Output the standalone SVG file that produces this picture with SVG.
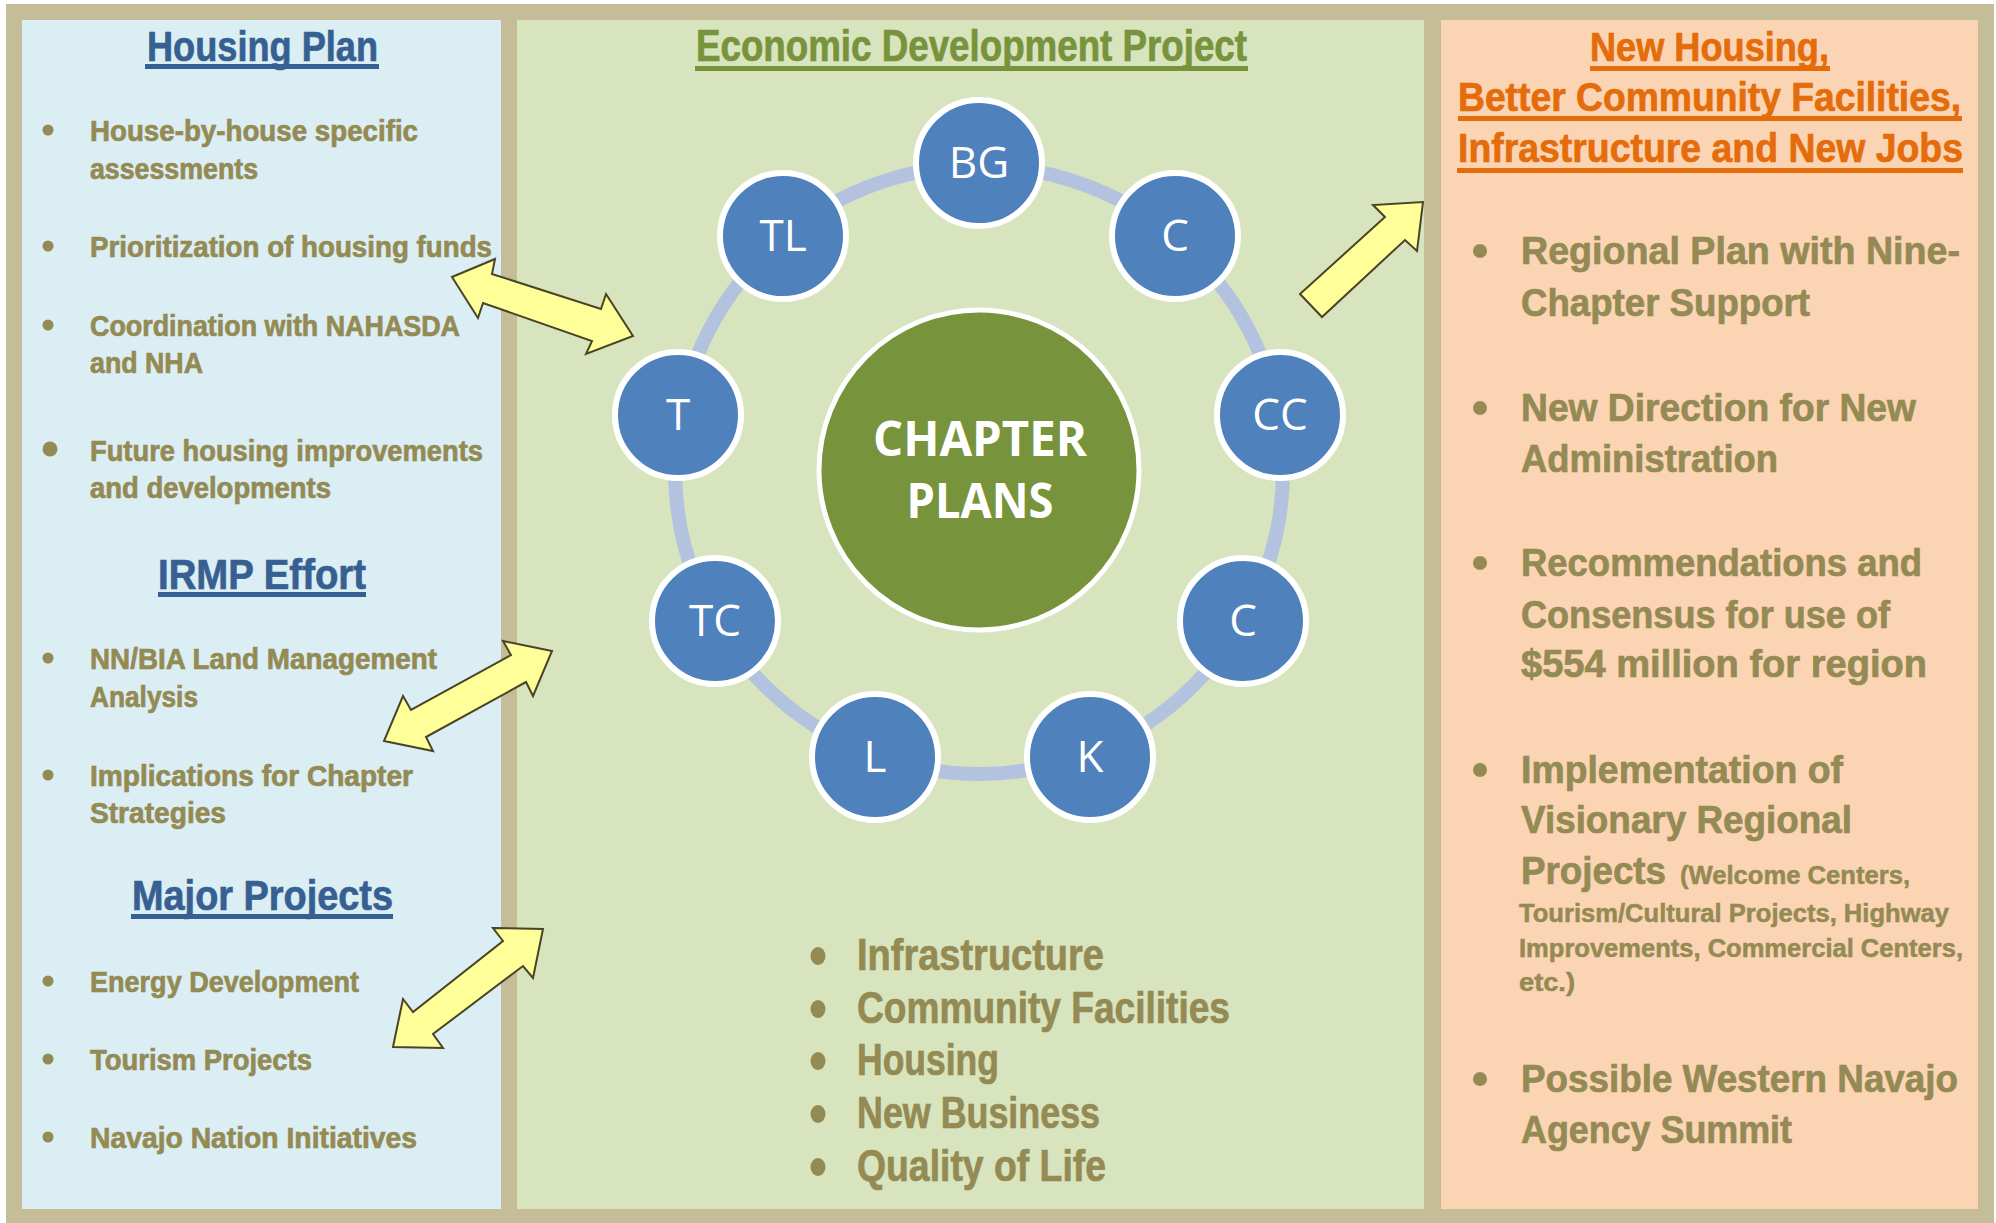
<svg xmlns="http://www.w3.org/2000/svg" width="1996" height="1223" viewBox="0 0 1996 1223">
<defs>
<style>
.bul{font-family:"Liberation Sans",Arial,sans-serif;font-weight:bold;fill:#948A54;stroke:#948A54;stroke-width:0.7px;}
.lb{font-size:30px;}
.gl{font-size:44px;}
.rb{font-size:39px;}
.rs{font-size:25px;stroke-width:0.5px;}
.tt{font-family:"Liberation Sans",Arial,sans-serif;font-weight:bold;stroke-width:0.7px;}
.blue{fill:#376092;stroke:#376092;font-size:43px;}
.grn{fill:#77933C;stroke:#77933C;font-size:44px;}
.org{fill:#E46C0A;stroke:#E46C0A;font-size:40px;}
.dot{fill:#948A54;}
.node circle{fill:#4F81BD;stroke:#FFFFFF;stroke-width:6;}
.node text{font-family:"Open Sans","DejaVu Sans",sans-serif;font-size:44px;fill:#FFFFFF;text-anchor:middle;}
.arrow{fill:#FFFF99;stroke:#4A4326;stroke-width:2;stroke-linejoin:miter;}
</style>
</defs>
<rect x="0" y="0" width="1996" height="1223" fill="#FFFFFF"/>
<rect x="6" y="4" width="1988" height="1219" fill="#C4BD97"/>

<g id="housing-panel">
<rect x="22" y="20" width="479" height="1189" fill="#DAEEF3"/>
<text class="tt blue" x="147" y="61" textLength="231" lengthAdjust="spacingAndGlyphs">Housing Plan</text>
<rect x="145" y="64" width="234" height="5" fill="#376092"/>
<circle class="dot" cx="48" cy="130" r="5.5"/>
<text class="bul lb" x="90" y="141" textLength="328" lengthAdjust="spacingAndGlyphs">House-by-house specific</text>
<text class="bul lb" x="90" y="179" textLength="168" lengthAdjust="spacingAndGlyphs">assessments</text>
<circle class="dot" cx="48" cy="246" r="5.5"/>
<text class="bul lb" x="90" y="257" textLength="402" lengthAdjust="spacingAndGlyphs">Prioritization of housing funds</text>
<circle class="dot" cx="48" cy="325" r="5.5"/>
<text class="bul lb" x="90" y="336" textLength="370" lengthAdjust="spacingAndGlyphs">Coordination with NAHASDA</text>
<text class="bul lb" x="90" y="373" textLength="113" lengthAdjust="spacingAndGlyphs">and NHA</text>
<circle class="dot" cx="50" cy="449" r="7.5"/>
<text class="bul lb" x="90" y="461" textLength="393" lengthAdjust="spacingAndGlyphs">Future housing improvements</text>
<text class="bul lb" x="90" y="498" textLength="241" lengthAdjust="spacingAndGlyphs">and developments</text>

<text class="tt blue" x="158" y="589" textLength="208" lengthAdjust="spacingAndGlyphs">IRMP Effort</text>
<rect x="158" y="592" width="208" height="5" fill="#376092"/>
<circle class="dot" cx="48" cy="658" r="5.5"/>
<text class="bul lb" x="90" y="669" textLength="347" lengthAdjust="spacingAndGlyphs">NN/BIA Land Management</text>
<text class="bul lb" x="90" y="707" textLength="108" lengthAdjust="spacingAndGlyphs">Analysis</text>
<circle class="dot" cx="48" cy="775" r="5.5"/>
<text class="bul lb" x="90" y="786" textLength="323" lengthAdjust="spacingAndGlyphs">Implications for Chapter</text>
<text class="bul lb" x="90" y="823" textLength="136" lengthAdjust="spacingAndGlyphs">Strategies</text>

<text class="tt blue" x="132" y="910" textLength="261" lengthAdjust="spacingAndGlyphs">Major Projects</text>
<rect x="131" y="914" width="262" height="5" fill="#376092"/>
<circle class="dot" cx="48" cy="981" r="5.5"/>
<text class="bul lb" x="90" y="992" textLength="269" lengthAdjust="spacingAndGlyphs">Energy Development</text>
<circle class="dot" cx="48" cy="1059" r="5.5"/>
<text class="bul lb" x="90" y="1070" textLength="222" lengthAdjust="spacingAndGlyphs">Tourism Projects</text>
<circle class="dot" cx="48" cy="1137" r="5.5"/>
<text class="bul lb" x="90" y="1148" textLength="327" lengthAdjust="spacingAndGlyphs">Navajo Nation Initiatives</text>
</g>

<g id="economic-panel">
<rect x="517" y="20" width="907" height="1189" fill="#D7E4BD"/>
<text class="tt grn" x="696" y="61" textLength="551" lengthAdjust="spacingAndGlyphs">Economic Development Project</text>
<rect x="695" y="66" width="553" height="5" fill="#77933C"/>
<ellipse class="dot" cx="818" cy="956" rx="7.5" ry="9"/>
<text class="bul gl" x="857" y="970" textLength="247" lengthAdjust="spacingAndGlyphs">Infrastructure</text>
<ellipse class="dot" cx="818" cy="1009" rx="7.5" ry="9"/>
<text class="bul gl" x="857" y="1023" textLength="373" lengthAdjust="spacingAndGlyphs">Community Facilities</text>
<ellipse class="dot" cx="818" cy="1061" rx="7.5" ry="9"/>
<text class="bul gl" x="857" y="1075" textLength="142" lengthAdjust="spacingAndGlyphs">Housing</text>
<ellipse class="dot" cx="818" cy="1114" rx="7.5" ry="9"/>
<text class="bul gl" x="857" y="1128" textLength="243" lengthAdjust="spacingAndGlyphs">New Business</text>
<ellipse class="dot" cx="818" cy="1167" rx="7.5" ry="9"/>
<text class="bul gl" x="857" y="1181" textLength="249" lengthAdjust="spacingAndGlyphs">Quality of Life</text>
</g>

<g id="outcomes-panel">
<rect x="1441" y="20" width="537" height="1189" fill="#FBD4B4"/>
<text class="tt org" x="1590" y="61" textLength="239" lengthAdjust="spacingAndGlyphs">New Housing,</text>
<rect x="1590" y="66" width="240" height="5" fill="#E46C0A"/>
<text class="tt org" x="1458" y="111" textLength="503" lengthAdjust="spacingAndGlyphs">Better Community Facilities,</text>
<rect x="1458" y="116" width="504" height="5" fill="#E46C0A"/>
<text class="tt org" x="1458" y="162" textLength="505" lengthAdjust="spacingAndGlyphs">Infrastructure and New Jobs</text>
<rect x="1457" y="168" width="506" height="5" fill="#E46C0A"/>

<circle class="dot" cx="1480" cy="251" r="7"/>
<text class="bul rb" x="1521" y="264" textLength="439" lengthAdjust="spacingAndGlyphs">Regional Plan with Nine-</text>
<text class="bul rb" x="1521" y="316" textLength="289" lengthAdjust="spacingAndGlyphs">Chapter Support</text>
<circle class="dot" cx="1480" cy="408" r="7"/>
<text class="bul rb" x="1521" y="421" textLength="395" lengthAdjust="spacingAndGlyphs">New Direction for New</text>
<text class="bul rb" x="1521" y="472" textLength="257" lengthAdjust="spacingAndGlyphs">Administration</text>
<circle class="dot" cx="1480" cy="563" r="7"/>
<text class="bul rb" x="1521" y="576" textLength="401" lengthAdjust="spacingAndGlyphs">Recommendations and</text>
<text class="bul rb" x="1521" y="628" textLength="369" lengthAdjust="spacingAndGlyphs">Consensus for use of</text>
<text class="bul rb" x="1521" y="677" textLength="406" lengthAdjust="spacingAndGlyphs">$554 million for region</text>
<circle class="dot" cx="1480" cy="770" r="7"/>
<text class="bul rb" x="1521" y="783" textLength="322" lengthAdjust="spacingAndGlyphs">Implementation of</text>
<text class="bul rb" x="1521" y="833" textLength="331" lengthAdjust="spacingAndGlyphs">Visionary Regional</text>
<text class="bul rb" x="1521" y="884" textLength="145" lengthAdjust="spacingAndGlyphs">Projects</text>
<text class="bul rs" x="1680" y="884" textLength="230" lengthAdjust="spacingAndGlyphs">(Welcome Centers,</text>
<text class="bul rs" x="1519" y="922" textLength="430" lengthAdjust="spacingAndGlyphs">Tourism/Cultural Projects, Highway</text>
<text class="bul rs" x="1519" y="957" textLength="444" lengthAdjust="spacingAndGlyphs">Improvements, Commercial Centers,</text>
<text class="bul rs" x="1519" y="991" textLength="56" lengthAdjust="spacingAndGlyphs">etc.)</text>
<circle class="dot" cx="1480" cy="1079" r="7"/>
<text class="bul rb" x="1521" y="1092" textLength="437" lengthAdjust="spacingAndGlyphs">Possible Western Navajo</text>
<text class="bul rb" x="1521" y="1143" textLength="271" lengthAdjust="spacingAndGlyphs">Agency Summit</text>
</g>

<g id="chapter-ring">
<circle cx="979" cy="470" r="304" fill="none" stroke="#B3C3DF" stroke-width="14"/>
</g>

<g id="chapter-plans">
<circle cx="979" cy="470" r="160" fill="#77933C" stroke="#FFFFFF" stroke-width="5"/>
<text x="980" y="456" font-family="'Open Sans','DejaVu Sans',sans-serif" font-weight="bold" font-size="48" fill="#FFFFFF" text-anchor="middle" textLength="214" lengthAdjust="spacingAndGlyphs">CHAPTER</text>
<text x="980" y="518" font-family="'Open Sans','DejaVu Sans',sans-serif" font-weight="bold" font-size="48" fill="#FFFFFF" text-anchor="middle" textLength="147" lengthAdjust="spacingAndGlyphs">PLANS</text>
</g>

<g id="node-bg" class="node"><circle cx="979" cy="163" r="63"/><text x="979" y="178">BG</text></g>
<g id="node-c1" class="node"><circle cx="1175" cy="236" r="63"/><text x="1175" y="251">C</text></g>
<g id="node-cc" class="node"><circle cx="1280" cy="415" r="63"/><text x="1280" y="430">CC</text></g>
<g id="node-c2" class="node"><circle cx="1243" cy="621" r="63"/><text x="1243" y="636">C</text></g>
<g id="node-k" class="node"><circle cx="1090" cy="757" r="63"/><text x="1090" y="772">K</text></g>
<g id="node-l" class="node"><circle cx="875" cy="757" r="63"/><text x="875" y="772">L</text></g>
<g id="node-tc" class="node"><circle cx="715" cy="621" r="63"/><text x="715" y="636">TC</text></g>
<g id="node-t" class="node"><circle cx="678" cy="415" r="63"/><text x="678" y="430">T</text></g>
<g id="node-tl" class="node"><circle cx="783" cy="236" r="63"/><text x="783" y="251">TL</text></g>

<g id="connectors">
<polygon class="arrow" points="452,277 495,259 492,274 601,309 606,294 633,336 586,354 592,341 483,303 478,318"/>
<polygon class="arrow" points="503,641 552,651 533,696 526,682 426,737 433,751 384,741 403,696 411,710 511,655"/>
<polygon class="arrow" points="493,928 543,929 533,978 523,966 433,1034 443,1048 393,1047 403,999 413,1012 503,941"/>
<polygon class="arrow" points="1300,294 1322,317 1405,240 1417,251 1423,202 1373,205 1385,217"/>
</g>
</svg>
